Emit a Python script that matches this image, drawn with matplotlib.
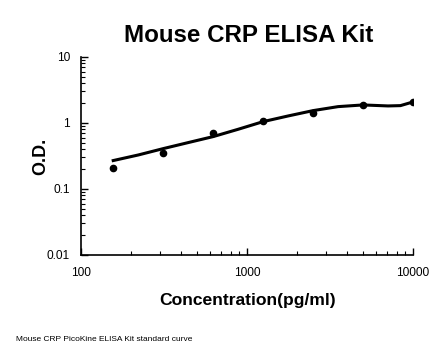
import numpy as np
import matplotlib
matplotlib.use('Agg')
import matplotlib.pyplot as plt

plt.rcParams['font.family'] = ['Liberation Sans', 'DejaVu Sans']

# Standard points
conc = [156.25, 312.5, 625, 1250, 2500, 5000, 10000]
od = [0.21, 0.347, 0.71, 1.08, 1.40, 1.87, 2.08]

# Fitted curve
curve_x = [156, 221, 312, 442, 625, 884, 1250, 1768, 2500, 3536, 5000, 7071, 8400, 10000]
curve_y = [0.269, 0.327, 0.408, 0.504, 0.621, 0.802, 1.047, 1.276, 1.538, 1.767, 1.874, 1.81, 1.83, 2.08]

fig = plt.figure(figsize=(4.46, 3.56), dpi=100)
ax = fig.add_axes([0.182, 0.284, 0.744, 0.556])

ax.plot(curve_x, curve_y, color='black', linewidth=2.2)
ax.plot(conc, od, 'o', color='black', markersize=4.5)

ax.set_xscale('log')
ax.set_yscale('log')
ax.set_xlim(100, 10000)
ax.set_ylim(0.01, 10)
ax.set_xticks([100, 1000, 10000])
ax.set_xticklabels(['100', '1000', '10000'])
ax.set_yticks([0.01, 0.1, 1, 10])
ax.set_yticklabels(['0.01', '0.1', '1', '10'])

for s in ['top', 'right']:
    ax.spines[s].set_visible(False)
for s in ['left', 'bottom']:
    ax.spines[s].set_linewidth(1.2)

ax.tick_params(which='both', direction='in', labelsize=8.6)
ax.tick_params(which='major', length=5, width=1)
ax.tick_params(which='minor', length=3, width=0.8)
ax.tick_params(axis='x', pad=9)
ax.tick_params(axis='y', pad=8)

ax.set_xlabel('Concentration(pg/ml)', fontsize=12.6, fontweight='bold', labelpad=10)
ax.set_ylabel('O.D.', fontsize=13, fontweight='bold', labelpad=-2)
fig.suptitle('Mouse CRP ELISA Kit', fontsize=17.4, fontweight='bold', x=0.558, y=0.90, va='center')

fig.text(0.035, 0.045, 'Mouse CRP PicoKine ELISA Kit standard curve', fontsize=6, va='center')

fig.savefig('out.png', dpi=100)
